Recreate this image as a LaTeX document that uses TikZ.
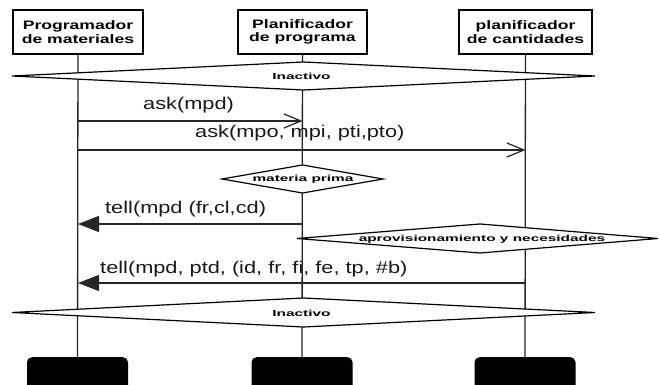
\documentclass[tikz,border=0pt]{standalone}
\usepackage{fontspec}
\usetikzlibrary{arrows.meta}
\setmainfont{Liberation Sans}
% widened faces for the three kinds of text
\newfontfamily\hdrfont[FakeStretch=1.43]{Liberation Sans Bold}
\newfontfamily\msgfont[FakeStretch=1.28]{Liberation Sans}
\newfontfamily\statefont[FakeStretch=1.75]{Liberation Sans Bold}
\tikzset{
  actor/.style={draw=black, fill=white, line width=1.3pt, inner sep=0pt,
    minimum height=44pt, align=center,
    font=\hdrfont\fontsize{12.3}{13.3}\selectfont},
  endbox/.style={fill=black, rounded corners=5pt, inner sep=0pt,
    minimum height=44pt, minimum width=101pt},
  life/.style={draw=black!85, line width=1.3pt},
  state/.style={draw=black, fill=white, line width=1.2pt, line join=miter},
  statelabel/.style={inner sep=0pt, font=\statefont\fontsize{8.8}{10}\selectfont},
  msgtext/.style={inner sep=0pt, anchor=base west, text=black!90,
    font=\msgfont\fontsize{17}{20}\selectfont},
  call/.style={draw=black!85, line width=1.2pt,
    -{Straight Barb[length=17pt,width=14pt,line width=1.2pt]}},
  reply/.style={draw=black!85, line width=1.2pt,
    -{Triangle[length=21pt,width=16pt]}}
}
\begin{document}
\begin{tikzpicture}[x=1pt,y=-1pt]
\useasboundingbox[fill=white] (0,0) rectangle (659,385);

% participants
\node[actor, minimum width=130pt] (hdrA) at (78,32) {Programador\\de materiales};
\node[actor, minimum width=129pt] (hdrB) at (302.5,32) {Planificador\\de programa};
\node[actor, minimum width=133pt] (hdrC) at (525.5,32) {planificador\\de cantidades};

% terminators
\node[endbox, anchor=north] (endA) at (77.5,357) {};
\node[endbox, anchor=north] (endB) at (302,357) {};
\node[endbox, anchor=north] (endC) at (525,357) {};

% lifelines
\draw[life] (hdrA) -- (endA);
\draw[life] (hdrB) -- (endB);
\draw[life] (hdrC) -- (endC);

% message end points on the lifelines
\coordinate (a1) at (hdrA |- 0,121);
\coordinate (b1) at (hdrB |- 0,121);
\coordinate (a2) at (hdrA |- 0,150);
\coordinate (c2) at (hdrC |- 0,150);
\coordinate (b3) at (hdrB |- 0,224);
\coordinate (a3) at (hdrA |- 0,224);
\coordinate (c4) at (hdrC |- 0,283);
\coordinate (a4) at (hdrA |- 0,283);

% states
\draw[state] (12,76) -- (303.5,62) -- (595,76) -- (303.5,90) -- cycle;
\node[statelabel] (idle1) at (301.5,76.5) {Inactivo};

\draw[state] (222,179) -- (302.5,165) -- (383,179) -- (302.5,193) -- cycle;
\node[statelabel] (raw) at (303,179.5) {materia prima};

\draw[state] (297,238.5) -- (480,224) -- (658,238.5) -- (480,253) -- cycle;
\node[statelabel] (supply) at (482,239) {aprovisionamiento y necesidades};

\draw[state] (12,312.5) -- (303.5,298) -- (595,312.5) -- (303.5,327) -- cycle;
\node[statelabel] (idle2) at (301.5,313) {Inactivo};

% messages
\draw[call] (a1) -- (b1);
\node[msgtext] (m1) at (143,110) {ask(mpd)};

\draw[call] (a2) -- (c2);
\node[msgtext] (m2) at (195,138) {ask(mpo, mpi, pti,pto)};

\draw[reply] (b3) -- (a3);
\node[msgtext] (m3) at (105,214) {tell(mpd (fr,cl,cd)};

\draw[reply] (c4) -- (a4);
\node[msgtext] (m4) at (100,273) {tell(mpd, ptd, (id, fr, fi, fe, tp, \#b)};
\end{tikzpicture}
\end{document}
